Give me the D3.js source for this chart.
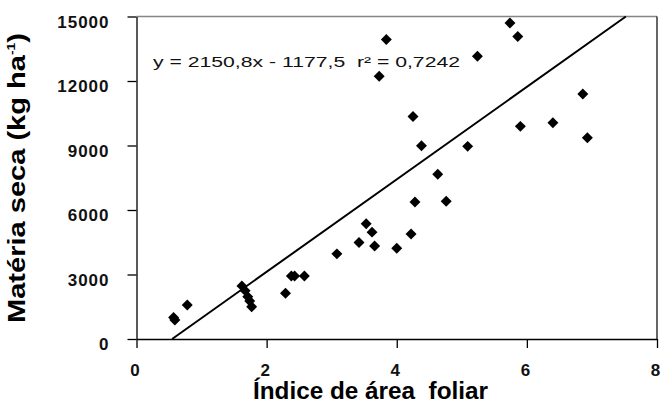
<!DOCTYPE html>
<html>
<head>
<meta charset="utf-8">
<script src="https://cdn.jsdelivr.net/npm/d3@7"></script>
<style>
  body { margin: 0; background: #fff; }
  svg { display: block; }
  text { font-family: "Liberation Sans", Arial, sans-serif; white-space: pre; }
</style>
</head>
<body>
<svg class="chartContainer" width="661" height="407"></svg>
<script>
// leaf area index (x) vs dry matter, kg/ha (y)
const iaf = [0.57, 0.59, 0.78, 1.62, 1.67, 1.71, 1.74, 1.77, 2.29, 2.38, 2.43, 2.58,
  3.08, 3.42, 3.53, 3.62, 3.66, 4.00, 4.22, 3.84, 3.73, 4.25, 4.38, 4.28, 4.63,
  4.76, 5.09, 5.24, 5.74, 5.86, 5.90, 6.40, 6.86, 6.93]
const materiaSeca = [1000, 880, 1580, 2470, 2250, 1970, 1770, 1500, 2130, 2930, 2930, 2930,
  3960, 4490, 5360, 4970, 4330, 4220, 4880, 13930, 12220, 10350, 8990, 6370, 7660,
  6410, 8960, 13150, 14700, 14070, 9890, 10060, 11400, 9360]

const xTicks = [0, 2, 4, 6, 8]
const yTicks = [0, 3000, 6000, 9000, 12000, 15000]
const slope = 2150.8
const intercept = -1177.5
const equationLabel = 'y = 2150,8x - 1177,5  r² = 0,7242'

const margin = { top: 16.5, right: 4, bottom: 68, left: 136.5 }

const svg = d3.select('svg.chartContainer')
const width = +svg.attr('width')
const height = +svg.attr('height')
const innerWidth = width - margin.left - margin.right
const innerHeight = height - margin.top - margin.bottom

const g = svg.append('g')
  .attr('transform', `translate(${margin.left},${margin.top})`)

const xScale = d3.scaleLinear().domain([0, 8]).range([0, innerWidth])
const yScale = d3.scaleLinear().domain([0, 15000]).range([innerHeight, 0])

// frame: grey top, black right
g.append('line')
  .attr('x1', 0).attr('x2', innerWidth)
  .attr('y1', 0).attr('y2', 0)
  .attr('stroke', '#858585').attr('stroke-width', 1.6)
g.append('line')
  .attr('x1', innerWidth).attr('x2', innerWidth)
  .attr('y1', 0).attr('y2', innerHeight)
  .attr('stroke', '#000').attr('stroke-width', 1.2)

// Axis
const xAxisG = g.append('g')
  .attr('transform', `translate(0, ${innerHeight})`)
  .call(d3.axisBottom(xScale).tickValues(xTicks).tickFormat(d3.format('d'))
    .tickSize(9).tickSizeOuter(0).tickPadding(16))
const yAxisG = g.append('g')
  .call(d3.axisLeft(yScale).tickValues(yTicks).tickFormat(d3.format('d'))
    .tickSize(9).tickSizeOuter(0).tickPadding(18))

xAxisG.selectAll('path, line').attr('stroke', '#000').attr('stroke-width', 1.3)
yAxisG.selectAll('path, line').attr('stroke', '#000').attr('stroke-width', 1.3)
xAxisG.selectAll('text')
  .style('font-size', '17px').style('font-weight', 'bold')
  .attr('fill', '#111')
  .attr('dx', '-2')
yAxisG.selectAll('text')
  .style('font-size', '17px').style('font-weight', 'bold')
  .style('letter-spacing', '1px')
  .attr('fill', '#111')
  .attr('dy', '0.62em')

// Axis labels
svg.append('text')
  .attr('x', 253)
  .attr('y', 399)
  .attr('textLength', 235)
  .attr('lengthAdjust', 'spacingAndGlyphs')
  .style('font-size', '23px')
  .style('font-weight', 'bold')
  .text('Índice de área  foliar')

const yLabel = svg.append('text')
  .attr('transform', 'translate(25, 323) rotate(-90)')
  .attr('textLength', 290)
  .attr('lengthAdjust', 'spacingAndGlyphs')
  .style('font-size', '23px')
  .style('font-weight', 'bold')
yLabel.append('tspan').text('Matéria seca (kg ha')
yLabel.append('tspan').text('-1').style('font-size', '11px').attr('dy', '-10')
yLabel.append('tspan').text(')').attr('dy', '10')

// regression line, drawn where it stays inside the plot
const xStart = -intercept / slope
const xEnd = (15000 - intercept) / slope
g.append('line')
  .attr('x1', xScale(xStart)).attr('y1', yScale(slope * xStart + intercept))
  .attr('x2', xScale(xEnd)).attr('y2', yScale(slope * xEnd + intercept))
  .attr('stroke', '#000')
  .attr('stroke-width', 2)

// points
const points = iaf.map((x, i) => ({ x, y: materiaSeca[i] }))
const diamond = d3.symbol().type(d3.symbolSquare).size(60)
g.selectAll('path.pt')
  .data(points)
  .enter().append('path')
  .attr('class', 'pt')
  .attr('d', diamond)
  .attr('fill', '#000')
  .attr('transform', d => `translate(${xScale(d.x)},${yScale(d.y)}) rotate(45)`)

// equation
g.append('text')
  .attr('x', 16.5)
  .attr('y', 50)
  .attr('textLength', 307)
  .attr('lengthAdjust', 'spacingAndGlyphs')
  .style('font-size', '15px')
  .attr('fill', '#111')
  .text(equationLabel)
</script>
</body>
</html>
